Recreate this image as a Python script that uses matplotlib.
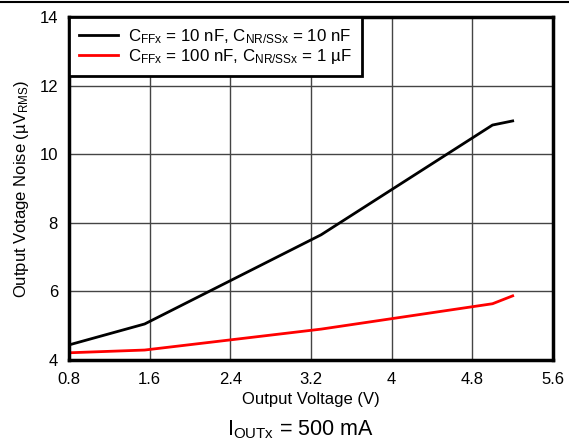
import matplotlib
matplotlib.use('Agg')
import matplotlib.pyplot as plt
from matplotlib.lines import Line2D

plt.rcParams['font.family'] = ['Liberation Sans', 'DejaVu Sans']
plt.rcParams['mathtext.fontset'] = 'custom'
plt.rcParams['mathtext.rm'] = 'Liberation Sans'
plt.rcParams['mathtext.default'] = 'regular'

# dados
vout_a = [0.8, 1.55, 3.3, 5.0, 5.2]
ruido_a = [4.44, 5.05, 7.65, 10.85, 10.97]
vout_b = [0.8, 1.55, 3.3, 5.0, 5.2]
ruido_b = [4.21, 4.29, 4.9, 5.64, 5.87]
rotulo_a = r'C$_{FFx}$ = 10 nF, C$_{NR/SSx}$ = 10 nF'
rotulo_b = r'C$_{FFx}$ = 100 nF, C$_{NR/SSx}$ = 1 µF'
xticks = [0.8, 1.6, 2.4, 3.2, 4, 4.8, 5.6]
xticklabels = ['0.8', '1.6', '2.4', '3.2', '4', '4.8', '5.6']
yticks = [4, 6, 8, 10, 12, 14]

fig = plt.figure(figsize=(5.69, 4.38), dpi=100)
ax = fig.add_axes([0.1213, 0.1781, 0.8506, 0.7831])

ax.plot(vout_a, ruido_a, color='black', lw=2, label=rotulo_a)
ax.plot(vout_b, ruido_b, color='#ff0000', lw=2, label=rotulo_b)

ax.set_xlim(0.8, 5.6)
ax.set_ylim(4, 14)
ax.set_xticks(xticks)
ax.set_xticklabels(xticklabels)
ax.set_yticks(yticks)
ax.tick_params(axis='x', length=0, labelsize=12, pad=9)
ax.tick_params(axis='y', length=0, labelsize=12, pad=8)
ax.grid(True, color='#444444', lw=1)
for s in ax.spines.values():
    s.set_linewidth(2.5)
    s.set_zorder(5)

ax.set_xlabel('Output Voltage (V)', fontsize=12, labelpad=3)
ax.set_ylabel(r'Output Votage Noise (µV$_{RMS}$)', fontsize=12, labelpad=6)

leg = ax.legend(loc='upper left', borderaxespad=0, fontsize=12.2, fancybox=False,
                framealpha=1, edgecolor='black', handlelength=2.3,
                labelspacing=0.05, borderpad=0.6, handletextpad=0.6)
leg.get_frame().set_linewidth(2)

fig.add_artist(Line2D([0, 1], [0.995, 0.995], color='black', lw=1.5))
fig.text(0.527, 0.045, r'I$_{OUTx}$ = 500 mA', fontsize=15.5, ha='center', va='top')

fig.savefig('out.png', dpi=100)
